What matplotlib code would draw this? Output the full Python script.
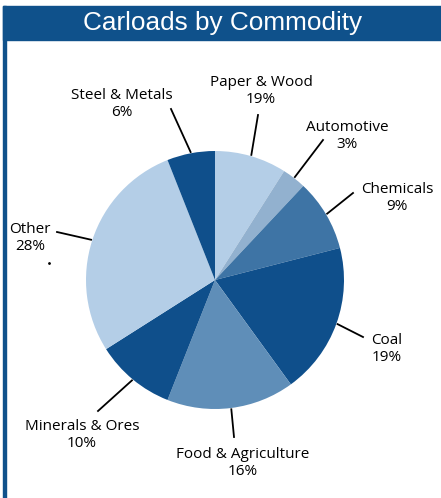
import numpy as np
import matplotlib.pyplot as plt
from matplotlib.patches import Rectangle

# wedge sizes as drawn (the printed label for Paper & Wood says 19%)
categories = ["Paper & Wood", "Automotive", "Chemicals", "Coal",
              "Food & Agriculture", "Minerals & Ores", "Other", "Steel & Metals"]
values = [9, 3, 9, 19, 16, 10, 28, 6]
pct_labels = ["19%", "3%", "9%", "19%", "16%", "10%", "28%", "6%"]

dark = "#0f4f8b"
colors = ["#b4cee7", "#92b1cf", "#3e74a5", dark, "#5f8eb8", dark, "#b4cee7", dark]

W, H = 441, 498
fig = plt.figure(figsize=(W / 100, H / 100), dpi=100)
ax = fig.add_axes([0, 0, 1, 1])

# frame: title banner + left border
ax.add_patch(Rectangle((3, H - 40), W - 3, 34, color="#0f518b", zorder=1))
ax.add_patch(Rectangle((3, 0), 3, H - 6, color="#0f518b", zorder=1))
ax.text(223, H - 23, "Carloads by Commodity", color="white", fontsize=18.8,
        family="Liberation Sans", ha="center", va="center")

cx, cy, r = 215, H - 280, 129
wedges, _ = ax.pie(values, colors=colors, startangle=90, counterclock=False,
                   center=(cx, cy), radius=r, frame=True,
                   wedgeprops=dict(linewidth=0))
ax.set_xlim(0, W)
ax.set_ylim(0, H)
ax.set_aspect("equal")
ax.axis("off")

# label text positions (image px) and leader line outer ends
label_pos = [(261, 91), (347, 136), (397, 198), (387, 349),
             (243, 463), (82, 435), (30, 238), (122, 104)]
line_end = [(258, 115), (323, 140), (353, 193), (363, 337),
            (234, 437), (98, 411), (57, 232), (171, 109)]

for w, cat, pct, (lx, ly), (ex, ey) in zip(wedges, categories, pct_labels,
                                           label_pos, line_end):
    mid = np.deg2rad((w.theta1 + w.theta2) / 2)
    sx = cx + r * 1.01 * np.cos(mid)
    sy = cy + r * 1.01 * np.sin(mid)
    ax.plot([sx, ex], [sy, H - ey], color="black", lw=1.3)
    ax.text(lx, H - ly, cat + "\n" + pct, ha="center", va="center",
            fontsize=11, family="Open Sans", linespacing=1.25)

ax.plot([49], [H - 263], marker="o", ms=1, color="black")

fig.savefig("out.png", dpi=100)
